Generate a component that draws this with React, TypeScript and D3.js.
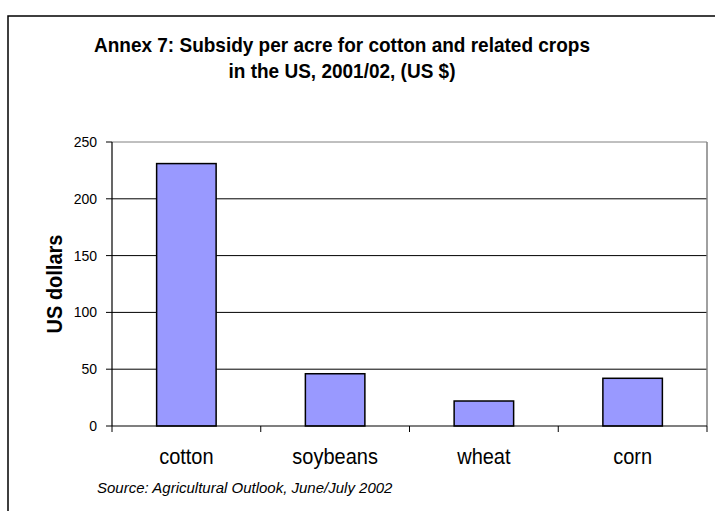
import React from "react";
import * as d3 from "d3";

const categories = ["cotton", "soybeans", "wheat", "corn"];
const values = [231, 46, 22, 42];
const yTicks = [0, 50, 100, 150, 200, 250];
const titleLines = ["Annex 7: Subsidy per acre for cotton and related crops", "in the US, 2001/02, (US $)"];
const yLabel = "US dollars";
const source = "Source: Agricultural Outlook, June/July 2002";

export default function App() {
  const W = 715, H = 511;
  const left = 112, right = 707, top = 142, bottom = 426;
  const x = d3.scaleBand<string>().domain(categories).range([left, right]).paddingInner(0.6).paddingOuter(0.3);
  const xb = d3.scaleBand<string>().domain(categories).range([left, right]);
  const y = d3.scaleLinear().domain([0, 250]).range([bottom, top]);
  const font = "Arial, 'Liberation Sans', sans-serif";
  return (
    <svg width={W} height={H} style={{ position: "absolute", left: 0, top: 0, fontFamily: font }}>
      <rect x={0} y={0} width={W} height={H} fill="#fff" />
      <rect x={8} y={16} width={W + 10} height={H + 10} fill="#fff" stroke="#000" strokeWidth={1.5} />
      {titleLines.map((t, i) => (
        <text key={i} transform={`translate(342,${52 + i * 25.5}) scale(1,1.04)`} textAnchor="middle" fontSize={19} fontWeight="bold">{t}</text>
      ))}
      {yTicks.slice(1).map((t) => (
        <line key={t} x1={left} x2={right} y1={y(t)} y2={y(t)} stroke={t === 250 ? "#808080" : "#000"} strokeWidth={1} />
      ))}
      <line x1={right} x2={right} y1={top} y2={bottom} stroke="#808080" strokeWidth={1.5} />
      {categories.map((c, i) => (
        <rect key={c} x={x(c)} y={y(values[i])} width={x.bandwidth()} height={bottom - y(values[i])} fill="#9999FF" stroke="#000" strokeWidth={1.5} />
      ))}
      <line x1={left} x2={left} y1={top} y2={bottom} stroke="#000" strokeWidth={1.2} />
      <line x1={left} x2={right} y1={bottom} y2={bottom} stroke="#000" strokeWidth={1.2} />
      {yTicks.map((t) => (
        <g key={t}>
          <line x1={left - 6} x2={left} y1={y(t)} y2={y(t)} stroke="#000" />
          <text x={left - 15} y={y(t)} dy="0.36em" textAnchor="end" fontSize={14}>{t}</text>
        </g>
      ))}
      {categories.map((c) => (
        <line key={c} x1={xb(c)} x2={xb(c)} y1={bottom} y2={bottom + 6} stroke="#000" />
      ))}
      <line x1={right} x2={right} y1={bottom} y2={bottom + 6} stroke="#000" />
      {categories.map((c) => (
        <text key={c} transform={`translate(${(xb(c) as number) + xb.bandwidth() / 2},464) scale(1,1.08)`} textAnchor="middle" fontSize={20}>{c}</text>
      ))}
      <text transform={`translate(62,${(top + bottom) / 2}) rotate(-90) scale(1,1.08)`} textAnchor="middle" fontSize={20} fontWeight="bold">{yLabel}</text>
      <text x={97} y={493} fontSize={15} fontStyle="italic">{source}</text>
    </svg>
  );
}
